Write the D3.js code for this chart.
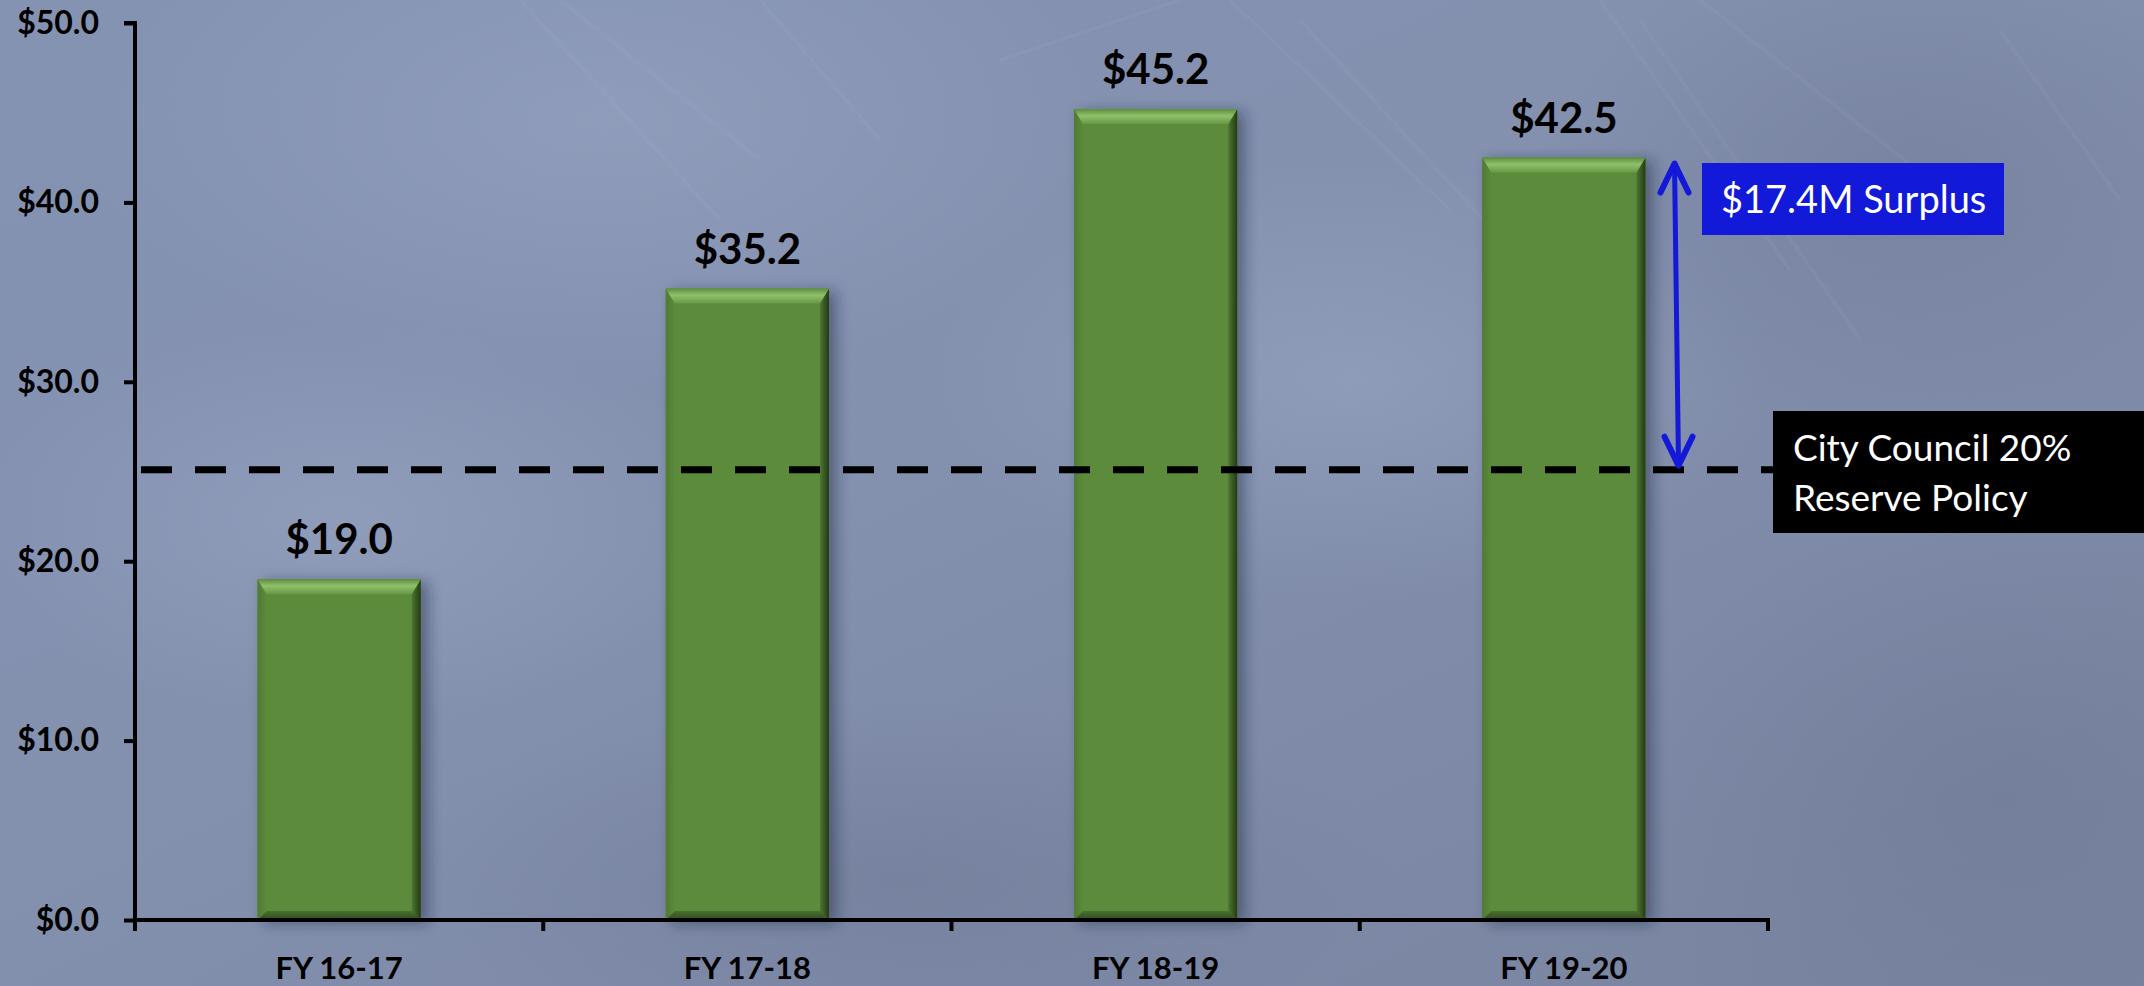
<!DOCTYPE html>
<html><head><meta charset="utf-8">
<script src="https://cdn.jsdelivr.net/npm/d3@7"></script>
<style>
html,body{margin:0;padding:0;overflow:hidden;background:#7f8aa6}
svg{display:block}
</style></head><body>
<svg id="chart" width="2144" height="986"></svg>
<script>
// ---- data ----
const categories = ["FY 16-17", "FY 17-18", "FY 18-19", "FY 19-20"];
const values = [19.0, 35.2, 45.2, 42.5];
const yTickValues = [0, 10, 20, 30, 40, 50];
const reserveValue = 25.1;
const surplusLabel = "$17.4M Surplus";
const reserveLabel = ["City Council 20%", "Reserve Policy"];

// ---- layout ----
const W = 2144, H = 986;
const mLeft = 135, mRight = 1768, mTop = 23, mBottom = 920;
const FONT = "Lato, 'Open Sans', 'DejaVu Sans', sans-serif";

const svg = d3.select("#chart");
const defs = svg.append("defs");

// background gradients
const bg = defs.append("linearGradient").attr("id","bg").attr("x1",0).attr("y1",0).attr("x2",1).attr("y2",1);
bg.append("stop").attr("offset","0%").attr("stop-color","#8593b3");
bg.append("stop").attr("offset","45%").attr("stop-color","#8390ae");
bg.append("stop").attr("offset","100%").attr("stop-color","#78839f");
svg.append("rect").attr("width",W).attr("height",H).attr("fill","url(#bg)");

const glow = defs.append("radialGradient").attr("id","glow");
glow.append("stop").attr("offset","0%").attr("stop-color","#9aa8c6").attr("stop-opacity",0.5);
glow.append("stop").attr("offset","100%").attr("stop-color","#9aa8c6").attr("stop-opacity",0);
const dark = defs.append("radialGradient").attr("id","dark");
dark.append("stop").attr("offset","0%").attr("stop-color","#6c7793").attr("stop-opacity",0.45);
dark.append("stop").attr("offset","100%").attr("stop-color","#6c7793").attr("stop-opacity",0);

const blobs = [
  {x:600,y:120,rx:520,ry:260,f:"glow"},
  {x:1350,y:380,rx:420,ry:220,f:"glow"},
  {x:350,y:520,rx:380,ry:200,f:"glow"},
  {x:1900,y:180,rx:360,ry:260,f:"dark"},
  {x:2000,y:800,rx:380,ry:300,f:"dark"},
  {x:900,y:880,rx:500,ry:180,f:"dark"}
];
svg.append("g").selectAll("ellipse").data(blobs).join("ellipse")
  .attr("cx",d=>d.x).attr("cy",d=>d.y).attr("rx",d=>d.rx).attr("ry",d=>d.ry)
  .attr("fill",d=>`url(#${d.f})`);

// faint water streaks
const streaks = [
  [520,0,720,220],[560,0,760,160],[1000,60,1180,0],[1230,0,1450,210],[1300,20,1520,260],
  [1600,0,1790,270],[1640,20,1860,340],[1700,0,1930,180],[760,0,880,140],[2000,30,2120,200]
];
svg.append("g").selectAll("line").data(streaks).join("line")
  .attr("x1",d=>d[0]).attr("y1",d=>d[1]).attr("x2",d=>d[2]).attr("y2",d=>d[3])
  .attr("stroke","#c8d2e6").attr("stroke-opacity",0.06).attr("stroke-width",4);

// scales
const x = d3.scaleBand().domain(categories).range([mLeft, mRight]).paddingInner(0.6).paddingOuter(0.3);
const y = d3.scaleLinear().domain([0, 50]).range([mBottom, mTop]);

// bar shading
const topGrad = defs.append("linearGradient").attr("id","topG").attr("x1",0).attr("y1",0).attr("x2",0).attr("y2",1);
topGrad.append("stop").attr("offset","0%").attr("stop-color","#5e8e3c");
topGrad.append("stop").attr("offset","45%").attr("stop-color","#8fc06b");
topGrad.append("stop").attr("offset","100%").attr("stop-color","#679843");
const rightGrad = defs.append("linearGradient").attr("id","rightG").attr("x1",0).attr("y1",0).attr("x2",1).attr("y2",0);
rightGrad.append("stop").attr("offset","0%").attr("stop-color","#4c7631");
rightGrad.append("stop").attr("offset","100%").attr("stop-color","#233a15");
const leftGrad = defs.append("linearGradient").attr("id","leftG").attr("x1",0).attr("y1",0).attr("x2",1).attr("y2",0);
leftGrad.append("stop").attr("offset","0%").attr("stop-color","#4f7a33");
leftGrad.append("stop").attr("offset","100%").attr("stop-color","#5c8b3b");
const botGrad = defs.append("linearGradient").attr("id","botG").attr("x1",0).attr("y1",0).attr("x2",0).attr("y2",1);
botGrad.append("stop").attr("offset","0%").attr("stop-color","#4a7030");
botGrad.append("stop").attr("offset","100%").attr("stop-color","#2f4a1f");

const sh = defs.append("filter").attr("id","shadow").attr("x","-20%").attr("y","-10%").attr("width","150%").attr("height","130%");
sh.append("feDropShadow").attr("dx",7).attr("dy",3).attr("stdDeviation",7)
  .attr("flood-color","#1e2538").attr("flood-opacity",0.45);

const barData = categories.map((c,i)=>({c, v: values[i]}));
const bars = svg.append("g").selectAll("g").data(barData).join("g");
const bt = 15, bs = 9;
bars.each(function(d){
  const g = d3.select(this);
  const x0 = x(d.c), x1 = x(d.c) + x.bandwidth(), y0 = y(d.v), y1 = y(0);
  g.append("rect").attr("x",x0).attr("y",y0).attr("width",x1-x0).attr("height",y1-y0)
    .attr("fill","#5c8b3b").attr("filter","url(#shadow)");
  g.append("polygon").attr("points",[[x0,y0],[x0+bs,y0+bt],[x0+bs,y1-bs],[x0,y1]].join(" ")).attr("fill","url(#leftG)");
  g.append("polygon").attr("points",[[x0,y1],[x0+bs,y1-bs],[x1-bs,y1-bs],[x1,y1]].join(" ")).attr("fill","url(#botG)");
  g.append("polygon").attr("points",[[x1,y0],[x1,y1],[x1-bs,y1-bs],[x1-bs,y0+bt]].join(" ")).attr("fill","url(#rightG)");
  g.append("polygon").attr("points",[[x0,y0],[x1,y0],[x1-bs,y0+bt],[x0+bs,y0+bt]].join(" ")).attr("fill","url(#topG)");
});

// value labels
svg.append("g").selectAll("text").data(barData).join("text")
  .attr("x", d => x(d.c) + x.bandwidth()/2)
  .attr("y", d => y(d.v) - 25)
  .attr("text-anchor","middle")
  .attr("font-family",FONT).attr("font-weight","bold").attr("font-size",42)
  .attr("fill","#000")
  .text(d => "$" + d.v.toFixed(1));

// y axis
const yAxis = svg.append("g").attr("transform",`translate(${mLeft},0)`)
  .call(d3.axisLeft(y).tickValues(yTickValues).tickSize(11).tickPadding(25).tickFormat(d => "$" + d3.format(".1f")(d)));
yAxis.select(".domain").attr("d",`M-11,${mTop}H0V${mBottom}`).attr("stroke","#000").attr("stroke-width",4).attr("fill","none");
yAxis.selectAll(".tick line").attr("stroke","#000").attr("stroke-width",4);
yAxis.selectAll(".tick text").attr("font-family",FONT).attr("font-weight","bold").attr("font-size",32).attr("fill","#000");

// x axis
const xAxis = svg.append("g").attr("transform",`translate(0,${mBottom})`)
  .call(d3.axisBottom(x).tickSize(0).tickPadding(37));
xAxis.select(".domain").attr("d",`M${mLeft},0H${mRight}`).attr("stroke","#000").attr("stroke-width",4);
xAxis.selectAll(".tick text").attr("font-family",FONT).attr("font-weight","bold").attr("font-size",31).attr("fill","#000");
const boundaries = d3.range(categories.length + 1).map(i => x.range()[0] + i * x.step());
xAxis.append("g").selectAll("line").data(boundaries).join("line")
  .attr("x1",d=>d).attr("x2",d=>d).attr("y1",-2).attr("y2",11)
  .attr("stroke","#000").attr("stroke-width",4);

// reserve dashed line
const ry = y(reserveValue);
svg.append("line").attr("x1",mLeft+6).attr("x2",mRight+8).attr("y1",ry).attr("y2",ry)
  .attr("stroke","#000").attr("stroke-width",7).attr("stroke-dasharray","31 23");

// surplus arrow
const lastBar = categories[categories.length-1];
const ax = x(lastBar) + x.bandwidth() + 29;
const ayTop = y(values[values.length-1]) + 6, ayBot = ry - 4;
const blue = "#1418d8";
svg.append("line").attr("x1",ax).attr("x2",ax+4).attr("y1",ayTop).attr("y2",ayBot)
  .attr("stroke",blue).attr("stroke-width",5);
svg.append("polyline").attr("points",[[ax-14,ayTop+29],[ax,ayTop],[ax+14,ayTop+29]].join(" "))
  .attr("fill","none").attr("stroke",blue).attr("stroke-width",6).attr("stroke-linecap","round").attr("stroke-linejoin","round");
svg.append("polyline").attr("points",[[ax+4-14,ayBot-29],[ax+4,ayBot],[ax+4+14,ayBot-29]].join(" "))
  .attr("fill","none").attr("stroke",blue).attr("stroke-width",6).attr("stroke-linecap","round").attr("stroke-linejoin","round");

// surplus box
svg.append("rect").attr("x",1702).attr("y",163).attr("width",302).attr("height",72).attr("fill","#1219d9");
svg.append("text").attr("x",1721).attr("y",213).attr("font-family",FONT).attr("font-size",38)
  .attr("fill","#fff").text(surplusLabel);

// reserve box
svg.append("rect").attr("x",1773).attr("y",411).attr("width",W-1773).attr("height",122).attr("fill","#000");
svg.append("g").selectAll("text").data(reserveLabel).join("text")
  .attr("x",1793).attr("y",(d,i)=>461 + i*50)
  .attr("font-family",FONT).attr("font-size",37).attr("fill","#fff").text(d=>d);
</script>
</body></html>
